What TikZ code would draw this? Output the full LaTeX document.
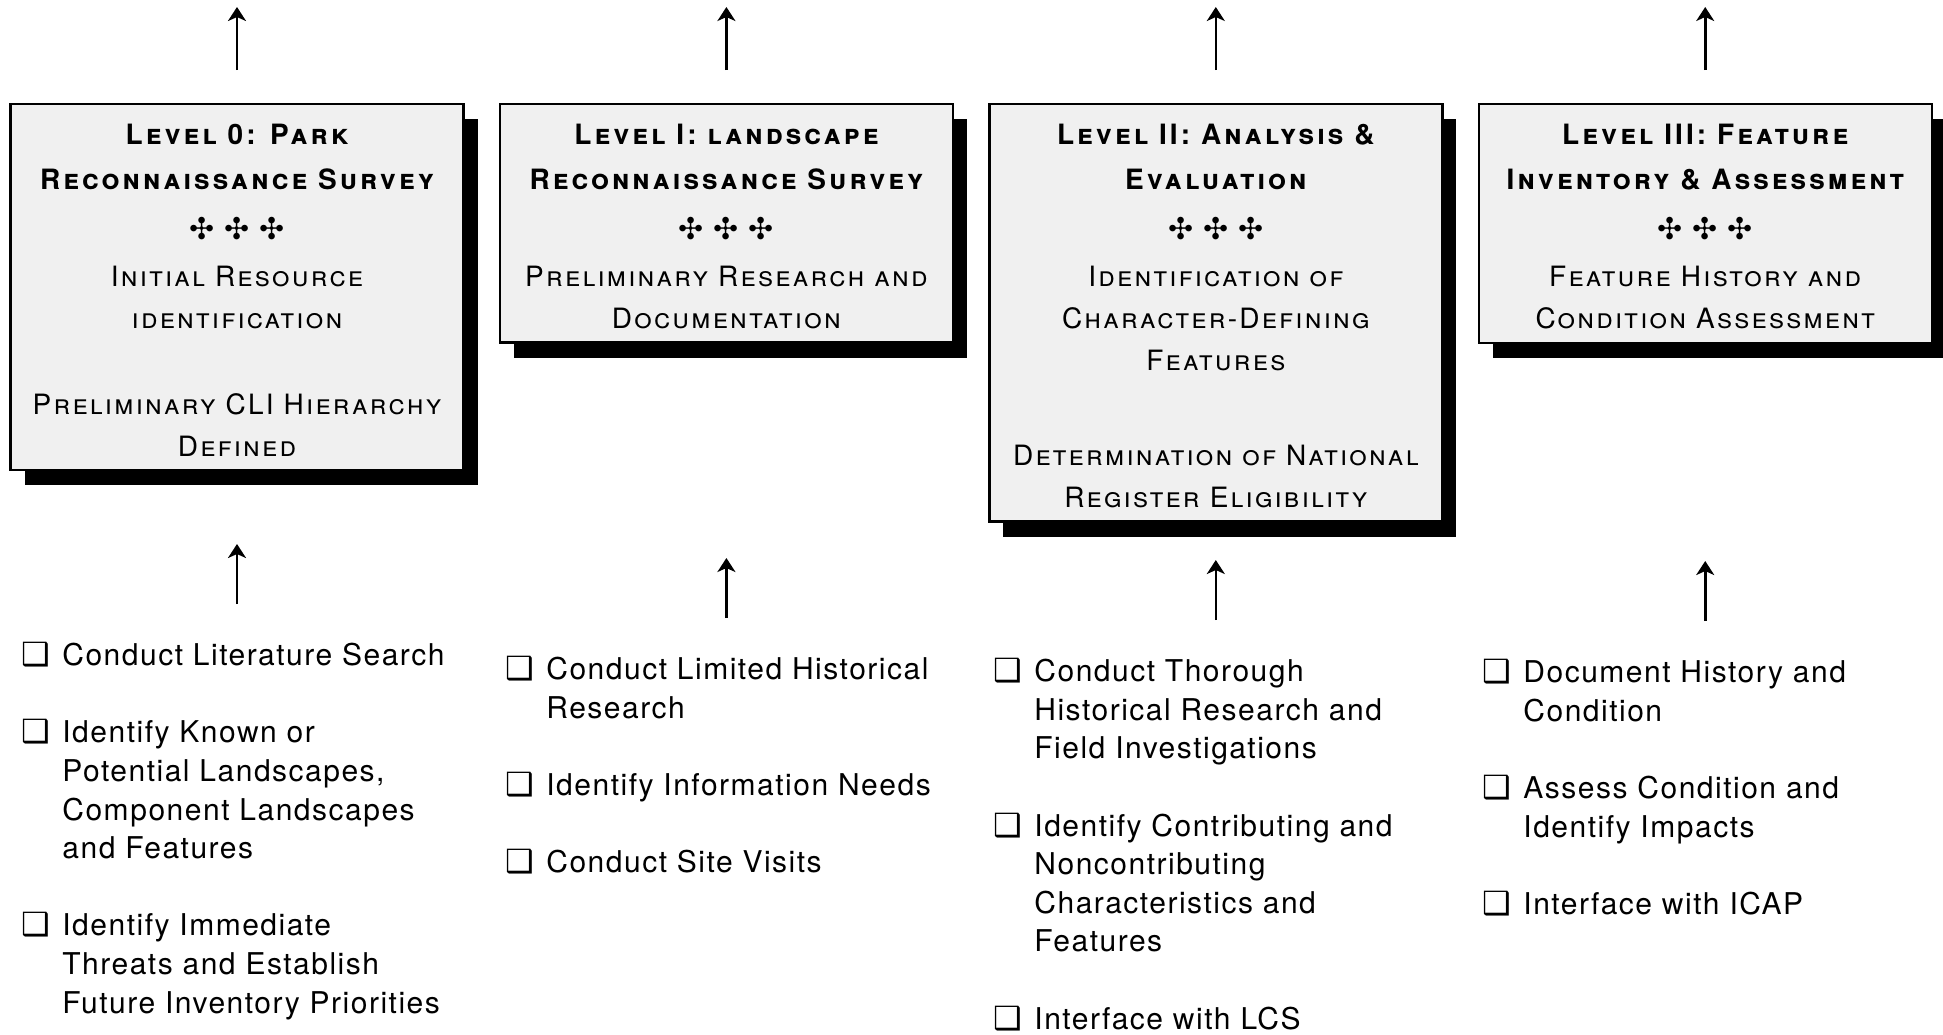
\documentclass[tikz,border=0pt]{standalone}
\usepackage{fontspec}
\setmainfont[LetterSpace=5]{TeX Gyre Heros}
\newfontfamily\headf[LetterSpace=11]{TeX Gyre Heros}
\newfontfamily\boxf[LetterSpace=8]{TeX Gyre Heros}
\newfontfamily\dingf{DejaVu Sans}
\usetikzlibrary{arrows.meta, positioning, shadows, calc}

\newcommand{\chk}{\makebox[20.5pt][l]{\dingf\bfseries\upshape\fontsize{16}{16}\selectfont ❑}}
\newcommand{\listin}{\hspace*{20.5pt}}
\newcommand{\crosses}{{\dingf\upshape\fontsize{15}{15}\selectfont ✣\,\,✣\,\,✣}}
\newcommand{\hd}[1]{{\headf\bfseries\scshape #1}}
\newcommand{\topstrut}{\rule{0pt}{13pt}}

\begin{document}
\begin{tikzpicture}[
    x=0.5pt, y=-0.5pt,
    node distance=7pt and 17pt,
    lvlbox/.style={draw, line width=1.2pt, fill=black!6, minimum width=226.5pt,
        inner xsep=4pt, inner ysep=7pt, align=center, anchor=north,
        font=\fontsize{14}{21}\selectfont\boxf\scshape,
        drop shadow={shadow xshift=7pt, shadow yshift=-7.5pt, fill=black, opacity=1}},
    todo/.style={inner sep=0pt, anchor=north west, align=left,
        font=\fontsize{15}{19.3}\selectfont},
    flow/.style={->, line width=1.3pt},
    >={Stealth[length=7pt, width=9pt, inset=2pt]}
]
\useasboundingbox (0,0) rectangle (1943,1034);

% Level boxes
\node[lvlbox] (b0) at (237,103) {\topstrut\hd{Level 0: Park}\\[1.5pt]
    \hd{Reconnaissance Survey}\\[4pt]
    \crosses\\[2.5pt]
    Initial Resource\\
    identification\\[22pt]
    Preliminary CLI Hierarchy\\
    Defined};
\node[lvlbox, right=of b0.north east, anchor=north west] (b1) {\topstrut\hd{Level I: landscape}\\[1.5pt]
    \hd{Reconnaissance Survey}\\[4pt]
    \crosses\\[2.5pt]
    Preliminary Research and\\
    Documentation};
\node[lvlbox, right=of b1.north east, anchor=north west] (b2) {\topstrut\hd{Level II: Analysis \&}\\[1.5pt]
    \hd{Evaluation}\\[4pt]
    \crosses\\[2.5pt]
    Identification of\\
    Character-Defining\\
    Features\\[26.5pt]
    Determination of National\\
    Register Eligibility};
\node[lvlbox, right=of b2.north east, anchor=north west] (b3) {\topstrut\hd{Level III: Feature}\\[1.5pt]
    \hd{Inventory \& Assessment}\\[4pt]
    \crosses\\[2.5pt]
    Feature History and\\
    Condition Assessment};

% Task lists
\node[todo] (l0) at (21,642) {\chk Conduct Literature Search\\[19.3pt]
    \chk Identify Known or\\
    \listin Potential Landscapes,\\
    \listin Component Landscapes\\
    \listin and Features\\[19.3pt]
    \chk Identify Immediate\\
    \listin Threats and Establish\\
    \listin Future Inventory Priorities};
\node[todo] (l1) at (505,656) {\chk Conduct Limited Historical\\
    \listin Research\\[19.3pt]
    \chk Identify Information Needs\\[19.3pt]
    \chk Conduct Site Visits};
\node[todo] (l2) at (993,658) {\chk Conduct Thorough\\
    \listin Historical Research and\\
    \listin Field Investigations\\[19.3pt]
    \chk Identify Contributing and\\
    \listin Noncontributing\\
    \listin Characteristics and\\
    \listin Features\\[19.3pt]
    \chk Interface with LCS};
\node[todo] (l3) at (1482,659) {\chk Document History and\\
    \listin Condition\\[19.3pt]
    \chk Assess Condition and\\
    \listin Identify Impacts\\[19.3pt]
    \chk Interface with ICAP};

% Arrows
\foreach \i in {0,...,3}{
    \coordinate (t\i) at (b\i.north |- 0,7);
    \draw[flow, shorten <=16.5pt] (b\i) -- (t\i);
    \coordinate (u\i) at ($(b\i.north |- l\i.north)+(0,-98)$);
    \draw[flow, shorten <=19pt] (b\i.north |- l\i.north) -- (u\i);
}

\end{tikzpicture}
\end{document}
